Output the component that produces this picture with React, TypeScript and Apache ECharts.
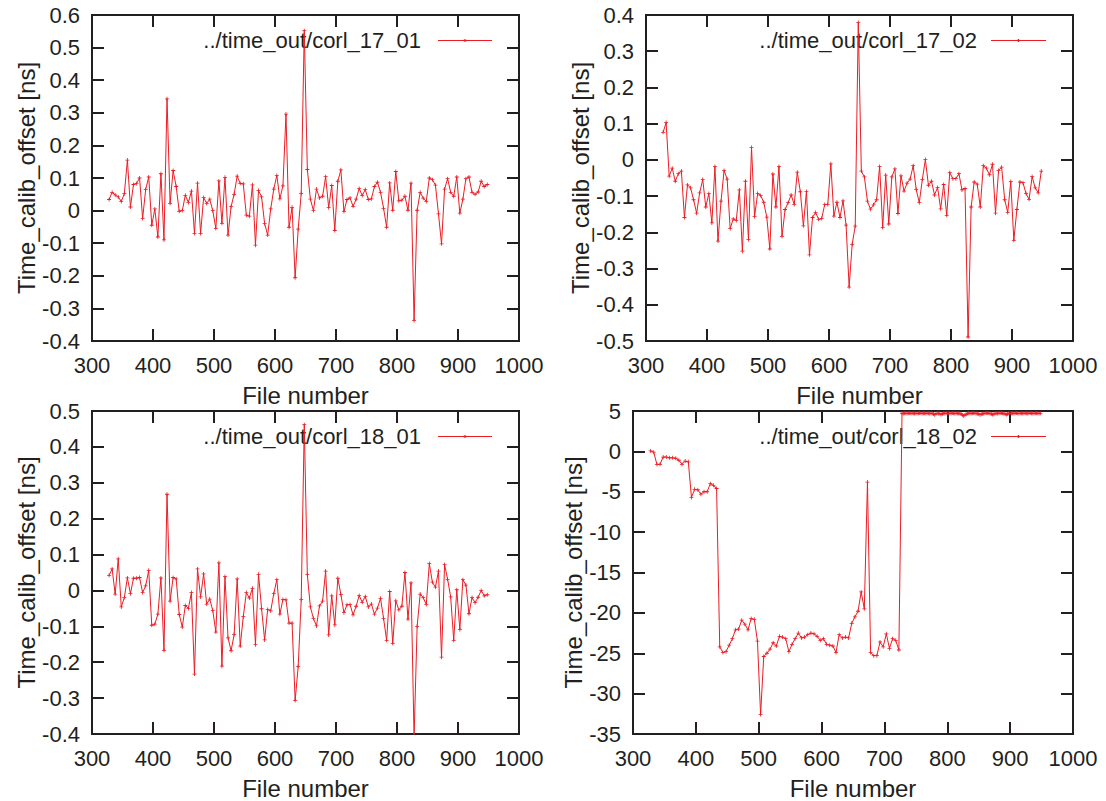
import React, { useEffect, useRef } from "react";
import * as echarts from "echarts";

const fileNumbers = [
  328, 333, 338, 343, 348, 353, 358, 363, 368, 373, 378, 383, 388, 393, 398, 403, 408, 413, 418, 423,
  428, 433, 438, 443, 448, 453, 458, 463, 468, 473, 478, 483, 488, 493, 498, 503, 508, 513, 518, 523,
  528, 533, 538, 543, 548, 553, 558, 563, 568, 573, 578, 583, 588, 593, 598, 603, 608, 613, 618, 623,
  628, 633, 638, 643, 648, 653, 658, 663, 668, 673, 678, 683, 688, 693, 698, 703, 708, 713, 718, 723,
  728, 733, 738, 743, 748, 753, 758, 763, 768, 773, 778, 783, 788, 793, 798, 803, 808, 813, 818, 823,
  828, 833, 838, 843, 848, 853, 858, 863, 868, 873, 878, 883, 888, 893, 898, 903, 908, 913, 918, 923,
  928, 933, 938, 943, 948,
];

const denseFileNumbers = [
  728, 730, 732, 734, 736, 738, 740, 742, 744, 746, 748, 750, 752, 754, 756, 758, 760, 762, 764, 766,
  768, 770, 772, 774, 776, 778, 780, 782, 784, 786, 788, 790, 792, 794, 796, 798, 800, 802, 804, 806,
  808, 810, 812, 814, 816, 818, 820, 822, 824, 826, 828, 830, 832, 834, 836, 838, 840, 842, 844, 846,
  848, 850, 852, 854, 856, 858, 860, 862, 864, 866, 868, 870, 872, 874, 876, 878, 880, 882, 884, 886,
  888, 890, 892, 894, 896, 898, 900, 902, 904, 906, 908, 910, 912, 914, 916, 918, 920, 922, 924, 926,
  928, 930, 932, 934, 936, 938, 940, 942, 944, 946, 948,
];

const corl_17_01 = [
  0.034, 0.056, 0.048, 0.042, 0.028, 0.052, 0.155, 0.011, 0.08, 0.083,
  0.1, -0.024, 0.065, 0.103, -0.045, 0.005, -0.081, 0.113, -0.09, 0.343,
  0.022, 0.123, 0.074, -0.002, 0.0, 0.047, 0.025, 0.06, -0.07, 0.084,
  -0.07, 0.04, 0.022, 0.035, 0.0, -0.055, 0.091, -0.039, 0.102, -0.075,
  0.012, 0.05, 0.106, 0.083, 0.082, -0.014, -0.017, 0.079, -0.106, 0.062,
  0.042, -0.04, -0.075, 0.005, 0.066, 0.108, 0.036, 0.076, 0.296, -0.051,
  0.01, -0.206, -0.057, 0.053, 0.552, 0.126, 0.035, 0.0, 0.066, 0.039,
  0.044, 0.104, 0.009, 0.077, -0.061, 0.09, 0.125, -0.003, 0.034, 0.039,
  0.013, 0.035, 0.068, 0.046, 0.065, 0.034, 0.036, 0.074, 0.087, 0.056,
  0.007, -0.051, 0.085, 0.001, 0.12, 0.03, 0.032, 0.044, 0.001, 0.084,
  -0.337, 0.001, 0.056, 0.038, 0.028, 0.1, 0.095, 0.078, -0.01, -0.102,
  0.066, 0.098, 0.056, 0.044, 0.103, -0.008, 0.035, 0.098, 0.103, 0.056,
  0.05, 0.057, 0.09, 0.074, 0.08,
];

const corl_17_02 = [
  0.076, 0.103, -0.045, -0.023, -0.059, -0.038, -0.031, -0.159, -0.069, -0.077,
  -0.11, -0.147, -0.091, -0.054, -0.13, -0.093, -0.174, -0.018, -0.224, -0.114,
  -0.029, -0.053, -0.19, -0.163, -0.167, -0.083, -0.252, -0.059, -0.22, 0.034,
  -0.156, -0.093, -0.098, -0.117, -0.158, -0.246, -0.039, -0.13, -0.018, -0.211,
  -0.137, -0.118, -0.097, -0.123, -0.034, -0.088, -0.182, -0.087, -0.262, -0.159,
  -0.145, -0.164, -0.162, -0.123, -0.123, -0.011, -0.155, -0.117, -0.159, -0.113,
  -0.18, -0.351, -0.233, -0.183, 0.379, -0.031, -0.047, -0.114, -0.136, -0.124,
  -0.11, -0.018, -0.187, -0.042, -0.177, -0.047, -0.025, -0.148, -0.044, -0.086,
  -0.064, -0.053, -0.016, -0.082, -0.118, -0.054, 0.001, -0.07, -0.059, -0.097,
  -0.076, -0.135, -0.068, -0.153, -0.035, -0.052, -0.052, -0.038, -0.083, -0.079,
  -0.489, -0.13, -0.061, -0.067, -0.13, -0.016, -0.023, -0.041, -0.012, -0.147,
  -0.029, -0.02, -0.11, -0.145, -0.06, -0.222, -0.137, -0.061, -0.063, -0.093,
  -0.109, -0.046, -0.077, -0.091, -0.031,
];

const corl_18_01 = [
  0.042, 0.06, -0.01, 0.088, -0.046, -0.02, 0.035, -0.009, 0.034, 0.034,
  0.036, -0.006, 0.013, 0.056, -0.097, -0.094, -0.066, 0.035, -0.167, 0.268,
  -0.03, 0.036, 0.032, -0.067, -0.102, -0.042, -0.05, -0.006, -0.233, 0.06,
  -0.018, 0.046, -0.038, -0.024, -0.056, -0.116, 0.077, -0.211, 0.039, -0.132,
  -0.168, -0.123, 0.032, -0.155, -0.073, -0.006, -0.021, 0.006, -0.151, 0.045,
  -0.051, -0.138, -0.053, -0.057, -0.009, 0.03, -0.066, -0.025, -0.026, -0.091,
  -0.091, -0.307, -0.212, -0.025, 0.462, 0.044, -0.046, -0.078, -0.099, -0.043,
  -0.03, 0.054, -0.124, -0.015, -0.096, 0.034, -0.011, -0.062, -0.04, -0.039,
  -0.068, -0.044, -0.014, -0.033, -0.017, -0.046, -0.038, -0.066, -0.049, -0.022,
  -0.078, -0.139, -0.003, -0.148, -0.029, -0.054, -0.044, 0.05, -0.08, 0.021,
  -0.41, -0.1, -0.01, -0.02, -0.039, 0.075, 0.023, 0.009, 0.054, -0.186,
  0.072, 0.031, -0.018, -0.139, 0.002, -0.109, 0.03, 0.015, -0.065, -0.02,
  -0.034, -0.019, 0.0, -0.015, -0.012,
];

// corl_18_02: first 80 files on the 5-step grid, then dense files from 728
const corl_18_02_low = [
  0.05, -0.1, -1.6, -1.6, -0.7, -0.7, -0.8, -0.8, -0.85, -1.1,
  -1.6, -1.2, -1.3, -5.7, -4.7, -4.75, -5.3, -5.0, -5.0, -4.0,
  -4.2, -4.6, -24.2, -24.9, -24.8, -24.0, -23.2, -22.1, -22.0, -20.9,
  -21.4, -22.1, -20.7, -20.8, -23.5, -32.6, -25.4, -25.0, -24.5, -23.7,
  -24.1, -22.9, -23.0, -23.2, -24.8, -23.9, -23.2, -22.5, -23.1, -23.0,
  -22.7, -22.5, -22.6, -22.9, -23.4, -23.2, -23.9, -24.0, -24.1, -24.9,
  -22.7, -23.1, -23.0, -23.1, -21.3, -20.5, -19.8, -17.4, -19.5, -3.8,
  -24.9, -25.3, -25.3, -23.6, -24.2, -22.6, -24.4, -23.2, -23.4, -24.6,
];

const corl_18_02_dense = [
  4.72, 4.7, 4.73, 4.71, 4.69, 4.72, 4.74, 4.7, 4.71, 4.73,
  4.68, 4.72, 4.7, 4.71, 4.74, 4.72, 4.69, 4.71, 4.73, 4.7,
  4.72, 4.71, 4.69, 4.72, 4.7, 4.62,
  4.55, 4.66, 4.71, 4.7, 4.68, 4.58, 4.64, 4.72, 4.7, 4.73,
  4.71, 4.69, 4.72, 4.7, 4.74, 4.71, 4.69, 4.72, 4.7, 4.73,
  4.68, 4.62, 4.5, 4.42, 4.48, 4.6, 4.68, 4.72, 4.7, 4.73,
  4.71, 4.74, 4.72, 4.7, 4.68, 4.62, 4.55, 4.6, 4.66, 4.7,
  4.73, 4.71, 4.74, 4.72, 4.69, 4.64, 4.58, 4.61, 4.68, 4.72,
  4.7, 4.73, 4.71, 4.74, 4.72, 4.68, 4.62, 4.57, 4.63, 4.7,
  4.72, 4.71, 4.73, 4.7, 4.72, 4.74, 4.71, 4.69, 4.72, 4.73,
  4.7, 4.72, 4.71, 4.73, 4.7, 4.72, 4.74, 4.71, 4.72, 4.7,
  4.73, 4.71, 4.72, 4.7, 4.72,
];

const xTicks = { min: 300, max: 1000, interval: 100 };
const yRanges = [
  { min: -0.4, max: 0.6, interval: 0.1 },
  { min: -0.5, max: 0.4, interval: 0.1 },
  { min: -0.4, max: 0.5, interval: 0.1 },
  { min: -35, max: 5, interval: 5 },
];
const seriesNames = [
  "../time_out/corl_17_01",
  "../time_out/corl_17_02",
  "../time_out/corl_18_01",
  "../time_out/corl_18_02",
];

const xTitle = "File number";
const yTitle = "Time_calib_offset [ns]";

const RED = "#ed1c24";
const INK = "#231f20";
const FONT = "'Liberation Sans', Arial, sans-serif";
const PLUS = "path://M2,0L3,0L3,2L5,2L5,3L3,3L3,5L2,5L2,3L0,3L0,2L2,2Z";

const grids = [
  { left: 92, top: 15, width: 427, height: 326 },
  { left: 646, top: 15, width: 427, height: 326 },
  { left: 92, top: 411, width: 427, height: 324 },
  { left: 633, top: 411, width: 440, height: 325 },
];
const yNameGaps = [50, 50, 50, 46];
const legendPos = [
  { textX: 421, lineX1: 438, lineX2: 492, y: 40 },
  { textX: 977, lineX1: 991, lineX2: 1046, y: 40 },
  { textX: 421, lineX1: 438, lineX2: 492, y: 436 },
  { textX: 977, lineX1: 991, lineX2: 1046, y: 436 },
];

function pairs(xs: number[], ys: number[]) {
  return ys.map((v, k) => [xs[k], v]);
}

export default function App() {
  const ref = useRef<HTMLDivElement>(null);

  useEffect(() => {
    document.body.style.margin = "0";
    if (!ref.current) return;
    const chart = echarts.init(ref.current, undefined, { renderer: "svg" });

    const datasets = [
      pairs(fileNumbers, corl_17_01),
      pairs(fileNumbers, corl_17_02),
      pairs(fileNumbers, corl_18_01),
      pairs(fileNumbers.slice(0, corl_18_02_low.length).concat(denseFileNumbers), corl_18_02_low.concat(corl_18_02_dense)),
    ];

    const tick = { show: true, inside: true, length: 12, lineStyle: { color: INK, width: 2 } };

    const xAxis: any[] = [];
    const yAxis: any[] = [];
    grids.forEach((_, i) => {
      xAxis.push({
        type: "value", gridIndex: i, position: "bottom", ...xTicks,
        axisLine: { show: false, onZero: false }, axisTick: tick, splitLine: { show: false },
        axisLabel: { fontSize: 22, fontFamily: FONT, color: INK, margin: 13, formatter: (v: number) => String(v) },
        name: xTitle, nameLocation: "middle", nameGap: 42,
        nameTextStyle: { fontSize: 24, fontFamily: FONT, color: INK },
      });
      xAxis.push({
        type: "value", gridIndex: i, position: "top", ...xTicks,
        axisLine: { show: false, onZero: false }, axisTick: tick, splitLine: { show: false },
        axisLabel: { show: false },
      });
      const r = yRanges[i];
      const fmt = r.interval < 1 ? (v: number) => String(Math.round(v * 10) / 10) : (v: number) => String(Math.round(v));
      yAxis.push({
        type: "value", gridIndex: i, position: "left", ...r,
        axisLine: { show: false, onZero: false }, axisTick: tick, splitLine: { show: false },
        axisLabel: { fontSize: 22, fontFamily: FONT, color: INK, margin: 12, formatter: fmt },
        name: yTitle, nameLocation: "middle", nameGap: yNameGaps[i], nameRotate: 90,
        nameTextStyle: { fontSize: 24, fontFamily: FONT, color: INK },
      });
      yAxis.push({
        type: "value", gridIndex: i, position: "right", ...r,
        axisLine: { show: false, onZero: false }, axisTick: tick, splitLine: { show: false },
        axisLabel: { show: false },
      });
    });

    const series = datasets.map((d, i) => ({
      name: seriesNames[i],
      type: "line",
      xAxisIndex: i * 2,
      yAxisIndex: i * 2,
      data: d,
      symbol: PLUS,
      symbolSize: 4,
      showSymbol: true,
      showAllSymbol: true,
      clip: true,
      lineStyle: { color: RED, width: 1 },
      itemStyle: { color: RED },
      emphasis: { disabled: true },
    }));

    const graphic: any[] = [];
    legendPos.forEach((p, i) => {
      graphic.push({
        type: "text", x: p.textX, y: p.y, silent: true,
        style: { text: seriesNames[i], fill: INK, font: `22px ${FONT}`, textAlign: "right", textVerticalAlign: "middle" },
      });
      graphic.push({
        type: "line", silent: true,
        shape: { x1: p.lineX1, y1: p.y + 0.5, x2: p.lineX2, y2: p.y + 0.5 },
        style: { stroke: RED, lineWidth: 1 },
      });
      const mx = (p.lineX1 + p.lineX2) / 2;
      graphic.push({
        type: "line", silent: true,
        shape: { x1: mx - 1.5, y1: p.y + 0.5, x2: mx + 1.5, y2: p.y + 0.5 },
        style: { stroke: RED, lineWidth: 1.5 },
      });
      graphic.push({
        type: "line", silent: true,
        shape: { x1: mx, y1: p.y - 1, x2: mx, y2: p.y + 2 },
        style: { stroke: RED, lineWidth: 1 },
      });
    });

    chart.setOption({
      animation: false,
      backgroundColor: "#ffffff",
      grid: grids.map((g) => ({ ...g, show: true, borderColor: INK, borderWidth: 2, backgroundColor: "transparent", containLabel: false })),
      xAxis,
      yAxis,
      series,
      graphic,
    });

    return () => chart.dispose();
  }, []);

  return <div ref={ref} style={{ width: 1106, height: 801 }} />;
}
